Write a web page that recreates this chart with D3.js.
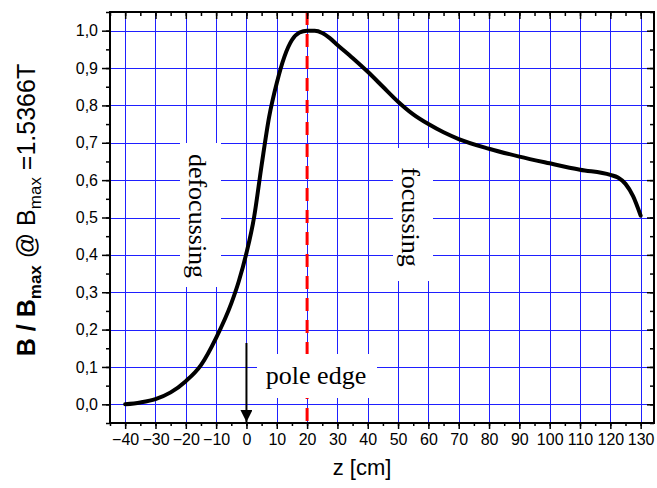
<!DOCTYPE html>
<html>
<head>
<meta charset="utf-8">
<script src="https://cdn.jsdelivr.net/npm/d3@7"></script>
<style>
  html, body { margin: 0; padding: 0; background: #ffffff; }
  svg { display: block; }
</style>
</head>
<body>
<svg id="chart" width="657" height="488"></svg>
<script>
// ---- data ----
const zValues = [-40, -35, -30, -25, -20, -15, -10, -5, -2.5, 0, 2.5, 5, 7.5, 10, 12.5, 15, 17.5, 20, 22.5, 25, 27.5, 30, 35, 40, 45, 50, 55, 60, 65, 70, 80, 90, 100, 110, 120, 122.5, 125, 127.5, 130];
const bValues = [0.0, 0.005, 0.014, 0.032, 0.062, 0.105, 0.178, 0.27, 0.33, 0.405, 0.5, 0.64, 0.77, 0.86, 0.93, 0.975, 0.995, 1.0, 1.0, 0.994, 0.98, 0.962, 0.927, 0.89, 0.85, 0.81, 0.776, 0.75, 0.728, 0.71, 0.684, 0.663, 0.645, 0.628, 0.614, 0.607, 0.59, 0.557, 0.505];
const xTickValues = [-40, -30, -20, -10, 0, 10, 20, 30, 40, 50, 60, 70, 80, 90, 100, 110, 120, 130];
const xMinorTicks = d3.range(-45, 135, 5);
const yTickValues = [0.0, 0.1, 0.2, 0.3, 0.4, 0.5, 0.6, 0.7, 0.8, 0.9, 1.0];
const yMinorTicks = d3.range(-0.05, 1.06, 0.05).map(v => +v.toFixed(2));
const poleEdgeZ = 0;
const peakLineZ = 20;
const xLabel = "z [cm]";
const annotations = ["defocussing", "focussing", "pole edge"];

// ---- layout ----
const svg = d3.select("#chart");
const pLeft = 110, pRight = 654, pTop = 12, pBottom = 423;
const x = d3.scaleLinear().domain([-45, 134.4]).range([pLeft, pRight]);
const y = d3.scaleLinear().domain([-0.05, 1.05]).range([pBottom, pTop]);
const fmtY = v => d3.format(".1f")(v).replace(".", ",");

// grid
const grid = svg.append("g");
grid.selectAll("line.gx").data(xTickValues).enter().append("line")
  .attr("x1", d => Math.round(x(d)) + 0.5).attr("x2", d => Math.round(x(d)) + 0.5)
  .attr("y1", pTop).attr("y2", pBottom)
  .attr("stroke", "#1f1fff").attr("stroke-width", 1);
grid.selectAll("line.gy").data(yTickValues).enter().append("line")
  .attr("y1", d => Math.round(y(d)) + 0.5).attr("y2", d => Math.round(y(d)) + 0.5)
  .attr("x1", pLeft).attr("x2", pRight)
  .attr("stroke", "#1f1fff").attr("stroke-width", 1);

// curve
const line = d3.line().x((d, i) => x(zValues[i])).y(d => y(d)).curve(d3.curveMonotoneX);
svg.append("path").datum(bValues)
  .attr("d", line)
  .attr("fill", "none").attr("stroke", "#000").attr("stroke-width", 4)
  .attr("stroke-linejoin", "round").attr("stroke-linecap", "round");

// red dashed line at z = 20
svg.append("line")
  .attr("x1", x(peakLineZ)).attr("x2", x(peakLineZ))
  .attr("y1", pTop).attr("y2", pBottom)
  .attr("stroke", "#ff0000").attr("stroke-width", 3)
  .attr("stroke-dasharray", "13,9");

// annotation boxes (white, hiding grid)
svg.append("rect").attr("x", 180).attr("y", 143).attr("width", 41).attr("height", 144).attr("fill", "#fff");
svg.append("rect").attr("x", 393).attr("y", 148).attr("width", 40).attr("height", 133).attr("fill", "#fff");
svg.append("rect").attr("x", 257).attr("y", 354).attr("width", 120).attr("height", 44).attr("fill", "#fff");

const serif = "'Liberation Serif', 'Times New Roman', serif";
svg.append("text")
  .attr("transform", `translate(197,216) rotate(90)`)
  .attr("text-anchor", "middle").attr("dominant-baseline", "central")
  .style("font-family", serif).style("font-size", "26px")
  .text(annotations[0]);
svg.append("text")
  .attr("transform", `translate(410,217) rotate(90)`)
  .attr("text-anchor", "middle").attr("dominant-baseline", "central")
  .style("font-family", serif).style("font-size", "26px")
  .text(annotations[1]);
svg.append("text")
  .attr("x", 316).attr("y", 384)
  .attr("text-anchor", "middle")
  .style("font-family", serif).style("font-size", "26px")
  .text(annotations[2]);

// arrow for pole edge
const defs = svg.append("defs");
defs.append("marker").attr("id", "arrow").attr("viewBox", "0 0 10 10")
  .attr("refX", 10).attr("refY", 5).attr("markerWidth", 6).attr("markerHeight", 6)
  .attr("markerUnits", "strokeWidth").attr("orient", "auto")
  .append("path").attr("d", "M0,0 L10,5 L0,10 Z").attr("fill", "#000");
svg.append("line")
  .attr("x1", x(poleEdgeZ)).attr("x2", x(poleEdgeZ))
  .attr("y1", 343).attr("y2", 422)
  .attr("stroke", "#000").attr("stroke-width", 2)
  .attr("marker-end", "url(#arrow)");

// axes
const sans = "Arial, 'Liberation Sans', sans-serif";
function styleAxis(g) {
  g.select(".domain").remove();
  g.selectAll(".tick line").attr("stroke", "#000").attr("stroke-width", 1.5);
  g.selectAll("text").style("font-family", sans).style("font-size", "16px").attr("fill", "#000");
}
svg.append("g").attr("transform", `translate(0,${pBottom})`)
  .call(d3.axisBottom(x).tickValues(xMinorTicks).tickSize(3).tickFormat(""))
  .call(styleAxis);
svg.append("g").attr("transform", `translate(0,${pBottom})`)
  .call(d3.axisBottom(x).tickValues(xTickValues).tickSize(6).tickPadding(5).tickFormat(d3.format("d")))
  .call(styleAxis);
svg.append("g").attr("transform", `translate(0,${pTop})`)
  .call(d3.axisBottom(x).tickValues(xMinorTicks).tickSize(4).tickFormat(""))
  .call(styleAxis);
svg.append("g").attr("transform", `translate(0,${pTop})`)
  .call(d3.axisBottom(x).tickValues(xTickValues).tickSize(7).tickFormat(""))
  .call(styleAxis);
svg.append("g").attr("transform", `translate(${pLeft},0)`)
  .call(d3.axisLeft(y).tickValues(yMinorTicks).tickSize(4).tickFormat(""))
  .call(styleAxis);
svg.append("g").attr("transform", `translate(${pLeft},0)`)
  .call(d3.axisLeft(y).tickValues(yTickValues).tickSize(8).tickPadding(4).tickFormat(fmtY))
  .call(styleAxis);
svg.append("g").attr("transform", `translate(${pRight},0)`)
  .call(d3.axisLeft(y).tickValues(yMinorTicks).tickSize(4).tickFormat(""))
  .call(styleAxis);
svg.append("g").attr("transform", `translate(${pRight},0)`)
  .call(d3.axisLeft(y).tickValues(yTickValues).tickSize(7).tickFormat(""))
  .call(styleAxis);

// frame
svg.append("rect").attr("x", pLeft).attr("y", pTop).attr("width", pRight - pLeft).attr("height", pBottom - pTop)
  .attr("fill", "none").attr("stroke", "#000").attr("stroke-width", 2);

// axis labels
svg.append("text").attr("x", 362).attr("y", 475)
  .attr("text-anchor", "middle")
  .style("font-family", sans).style("font-size", "22px")
  .text(xLabel);

const yl = svg.append("text")
  .attr("transform", "translate(35,210) rotate(-90)")
  .attr("text-anchor", "middle")
  .style("font-family", sans).style("font-size", "25px");
yl.append("tspan").style("font-weight", "bold").text("B / B");
yl.append("tspan").style("font-weight", "bold").style("font-size", "17px").attr("dy", 6).text("max");
yl.append("tspan").attr("dy", -6).text(" @ B");
yl.append("tspan").style("font-size", "17px").attr("dy", 6).text("max");
yl.append("tspan").attr("dy", -6).text(" =1.5366T");
</script>
</body>
</html>
